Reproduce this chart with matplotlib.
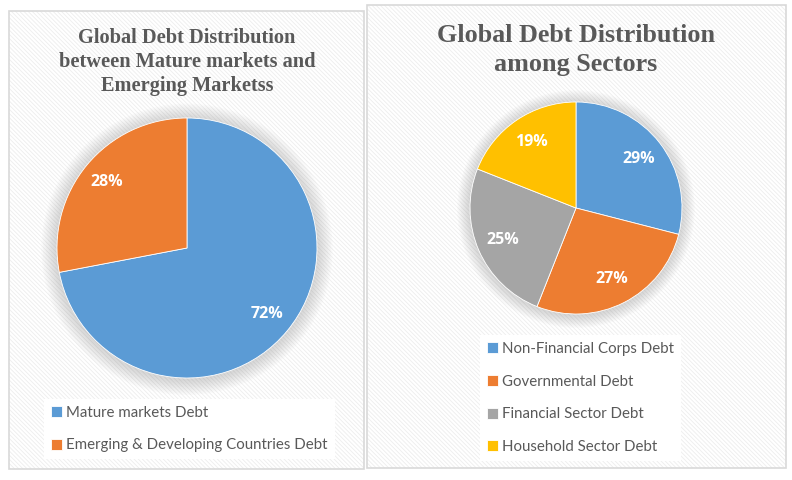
import numpy as np
import matplotlib.pyplot as plt
from matplotlib.patches import Rectangle, Circle

# Data
market_labels = ["Mature markets Debt", "Emerging & Developing Countries Debt"]
market_shares = [72, 28]
market_colors = ["#5B9BD5", "#ED7D31"]

sector_labels = ["Non-Financial Corps Debt", "Governmental Debt",
                 "Financial Sector Debt", "Household Sector Debt"]
sector_shares = [29, 27, 25, 19]
sector_colors = ["#5B9BD5", "#ED7D31", "#A5A5A5", "#FFC000"]

W, H = 792, 480
plt.rcParams['hatch.linewidth'] = 0.6

fig = plt.figure(figsize=(W / 100, H / 100), dpi=100)
fig.patch.set_facecolor("white")


def px_box(x0, y0, x1, y1):
    # pixel box (top-left origin) -> figure fraction rect
    return [x0 / W, 1 - y1 / H, (x1 - x0) / W, (y1 - y0) / H]


def panel(x0, y0, x1, y1):
    ax = fig.add_axes(px_box(x0, y0, x1, y1))
    ax.set_xlim(0, 1)
    ax.set_ylim(0, 1)
    ax.axis("off")
    ax.add_patch(Rectangle((0, 0), 1, 1, facecolor="white", edgecolor="#ededed",
                           hatch="\\\\\\\\\\\\\\\\", lw=0, transform=ax.transAxes))
    ax.add_patch(Rectangle((0, 0), 1, 1, facecolor="none", edgecolor="#d9d9d9",
                           lw=1.2, transform=ax.transAxes, clip_on=False))
    return ax


def draw_pie(cx, cy, r, values, colors, pctdist):
    ax = fig.add_axes(px_box(cx - r, cy - r, cx + r, cy + r))
    # soft shadow halo
    for k in range(10):
        ax.add_patch(Circle((0, -0.01), 1.0 + 0.012 * (10 - k), color="#7f7f7f",
                            alpha=0.03, lw=0, clip_on=False, zorder=0))
    wedges, texts, autotexts = ax.pie(
        values, colors=colors, startangle=90, counterclock=False,
        autopct="%.0f%%", pctdistance=pctdist,
        wedgeprops=dict(edgecolor="white", linewidth=0.6),
        textprops=dict(color="white", fontsize=11.5, fontweight="bold",
                       family="Open Sans"))
    ax.set_xlim(-1, 1)
    ax.set_ylim(-1, 1)
    ax.set_aspect("equal")
    for w in wedges:
        w.set_zorder(2)
    for t in autotexts:
        t.set_zorder(3)
    return ax, wedges


def legend(handles, labels, top_px, left_px):
    return fig.legend(handles, labels, loc="upper left",
                      bbox_to_anchor=(left_px / W, 1 - top_px / H),
                      prop=dict(family="Lato", size=10.8), labelcolor="#595959",
                      frameon=True, facecolor="white", edgecolor="none",
                      fancybox=False, framealpha=1, handlelength=0.75,
                      handleheight=0.75, handletextpad=0.3, labelspacing=1.25,
                      borderpad=0.45, borderaxespad=0)


# Left panel
panel(9, 11, 364, 469)
fig.text(187 / W, 1 - 62 / H,
         "Global Debt Distribution\nbetween Mature markets and\nEmerging Marketss",
         ha="center", va="center", family="Liberation Serif", fontweight="bold",
         fontsize=14.7, color="#595959", linespacing=1.27)
ax1, w1 = draw_pie(187, 248, 130, market_shares, market_colors, 0.8)
legend(w1, market_labels, 399, 44)

# Right panel
panel(367, 5, 786, 468)
fig.text(576 / W, 1 - 50 / H, "Global Debt Distribution\namong Sectors",
         ha="center", va="center", family="Liberation Serif", fontweight="bold",
         fontsize=18.8, color="#595959", linespacing=1.33)
ax2, w2 = draw_pie(576, 208, 106, sector_shares, sector_colors, 0.75)
legend(w2, sector_labels, 335, 480)

fig.savefig("out.png", dpi=100)
